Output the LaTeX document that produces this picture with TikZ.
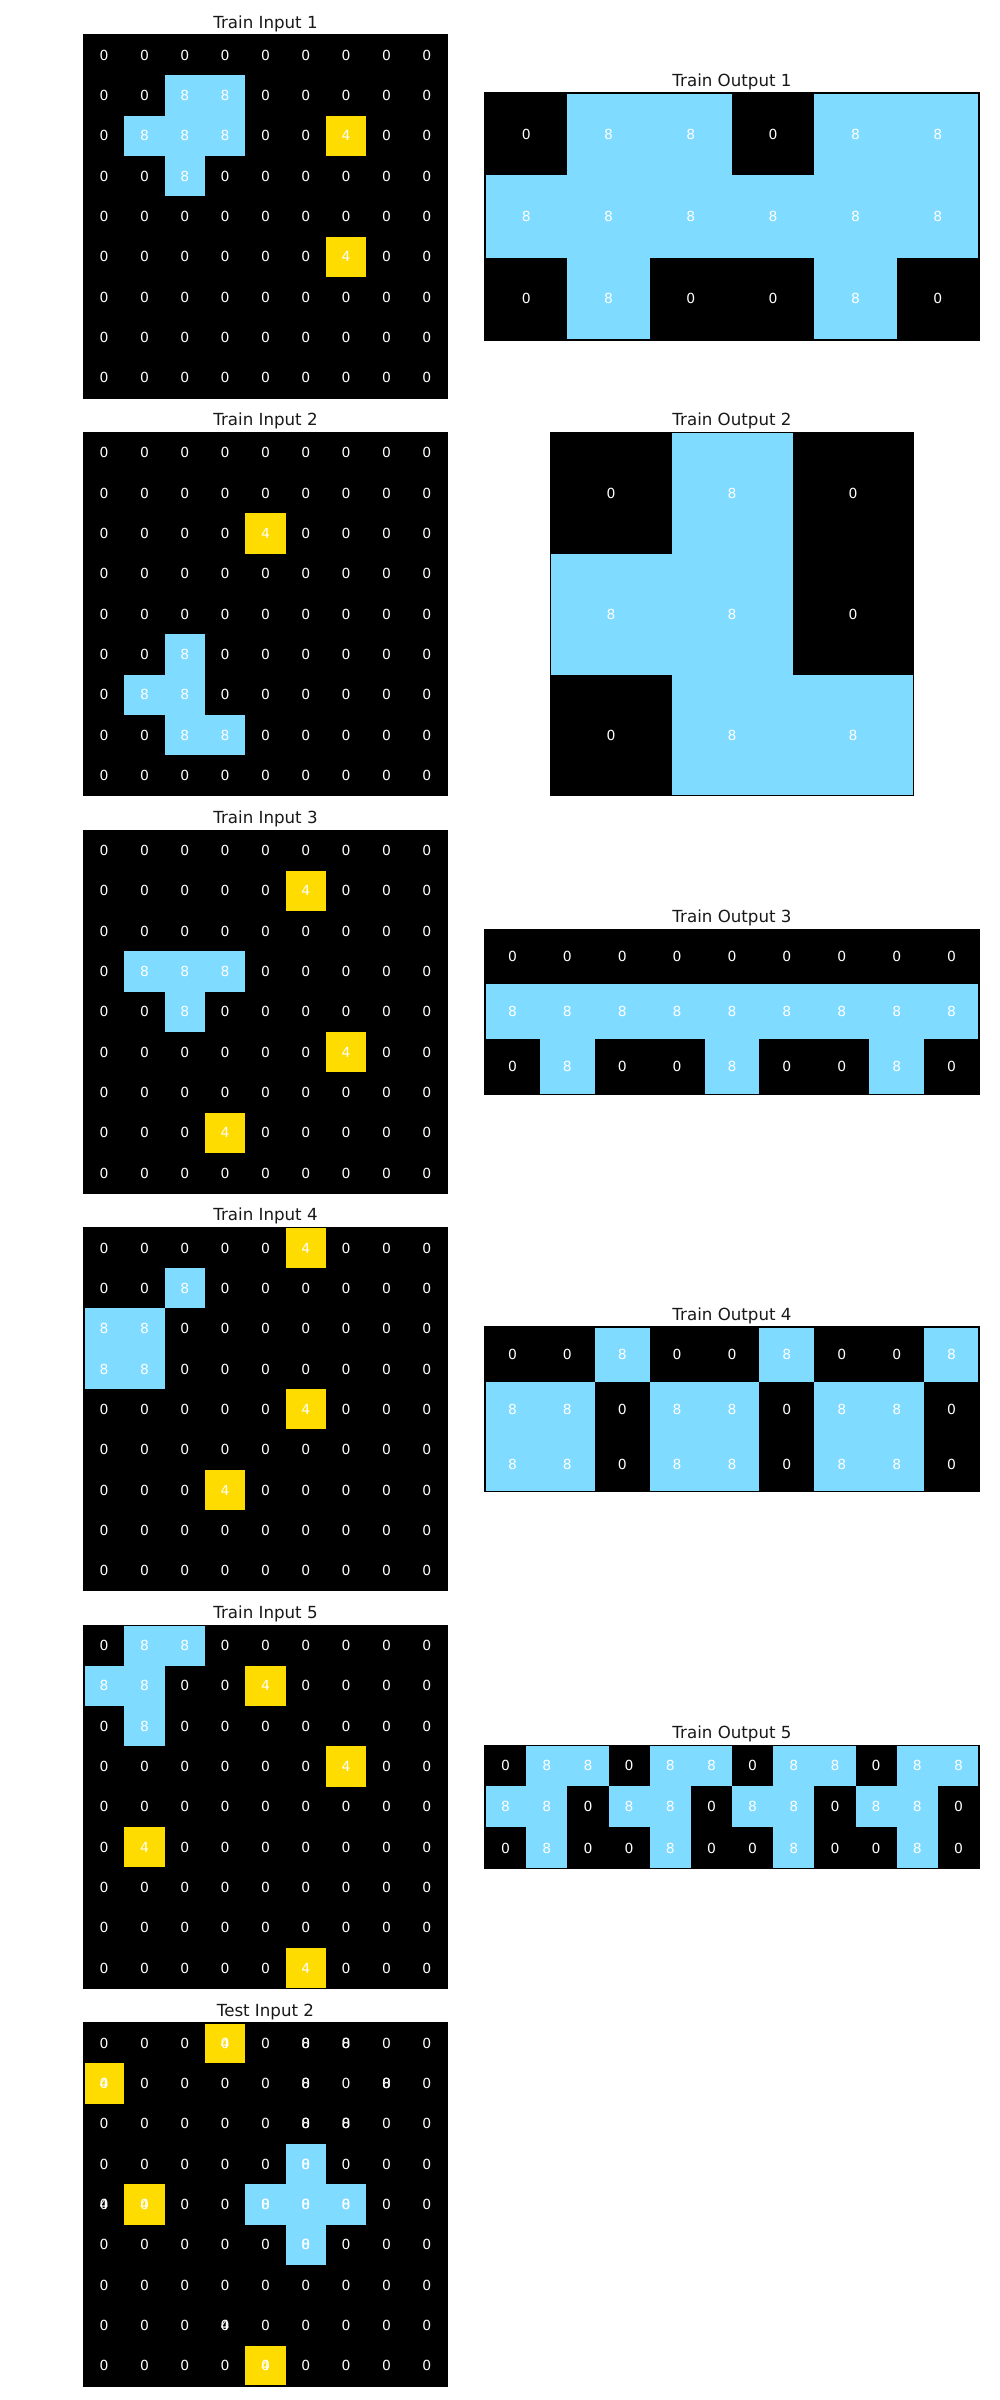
\documentclass[tikz,border=0pt]{standalone}
\usepackage{fontspec}
\setmainfont{DejaVu Sans}
\usepackage{tikz}
\usetikzlibrary{positioning}
\definecolor{arc0}{RGB}{0,0,0}
\definecolor{arc4}{RGB}{255,220,0}
\definecolor{arc8}{RGB}{127,219,255}
\tikzset{
  cellnum/.style={
    text=white,
    inner sep=0pt,
    font=\fontsize{10}{12}\selectfont
  },
  gridtitle/.style={
    anchor=base,
    inner sep=0pt,
    text=black!90,
    font=\fontsize{12}{14}\selectfont
  },
  gridframe/.style={draw=black,line width=0.8pt}
}
% #1 name, #2 left, #3 top, #4 cell, #5 cols, #6 rows, #7 title, #8 values
\newcommand{\arcgrid}[8]{%
  \foreach \cells [count=\r from 0] in {#8} {
    \foreach \v [count=\c from 0] in \cells {
      \fill[arc\v] ({#2+\c*#4},{#3+\r*#4}) rectangle ++(#4,#4);
      \node[cellnum] (#1-\r-\c) at ({#2+(\c+0.5)*#4},{#3+(\r+0.5)*#4}) {\v};
    }
  }
  \draw[gridframe] (#2,#3) rectangle ({#2+#5*#4},{#3+#6*#4});
  \node[gridtitle] (#1-title) at ({#2+#5*#4/2},{#3-7}) {#7};
}

\begin{document}
\begin{tikzpicture}[x=0.72pt,y=-0.72pt]
  \fill[white] (0,0) rectangle (1000,2400);
  \useasboundingbox (0,0) rectangle (1000,2400);

  \arcgrid{in1}{84}{35}{40.33}{9}{9}{Train Input 1}{
    {0,0,0,0,0,0,0,0,0},{0,0,8,8,0,0,0,0,0},{0,8,8,8,0,0,4,0,0},
    {0,0,8,0,0,0,0,0,0},{0,0,0,0,0,0,0,0,0},{0,0,0,0,0,0,4,0,0},
    {0,0,0,0,0,0,0,0,0},{0,0,0,0,0,0,0,0,0},{0,0,0,0,0,0,0,0,0}}
  \arcgrid{out1}{485}{93}{82.33}{6}{3}{Train Output 1}{
    {0,8,8,0,8,8},{8,8,8,8,8,8},{0,8,0,0,8,0}}

  \arcgrid{in2}{84}{432.6}{40.33}{9}{9}{Train Input 2}{
    {0,0,0,0,0,0,0,0,0},{0,0,0,0,0,0,0,0,0},{0,0,0,0,4,0,0,0,0},
    {0,0,0,0,0,0,0,0,0},{0,0,0,0,0,0,0,0,0},{0,0,8,0,0,0,0,0,0},
    {0,8,8,0,0,0,0,0,0},{0,0,8,8,0,0,0,0,0},{0,0,0,0,0,0,0,0,0}}
  \arcgrid{out2}{550.5}{432.6}{121}{3}{3}{Train Output 2}{
    {0,8,0},{8,8,0},{0,8,8}}

  \arcgrid{in3}{84}{830.2}{40.33}{9}{9}{Train Input 3}{
    {0,0,0,0,0,0,0,0,0},{0,0,0,0,0,4,0,0,0},{0,0,0,0,0,0,0,0,0},
    {0,8,8,8,0,0,0,0,0},{0,0,8,0,0,0,0,0,0},{0,0,0,0,0,0,4,0,0},
    {0,0,0,0,0,0,0,0,0},{0,0,0,4,0,0,0,0,0},{0,0,0,0,0,0,0,0,0}}
  \arcgrid{out3}{485}{929.4}{54.89}{9}{3}{Train Output 3}{
    {0,0,0,0,0,0,0,0,0},{8,8,8,8,8,8,8,8,8},{0,8,0,0,8,0,0,8,0}}

  \arcgrid{in4}{84}{1227.8}{40.33}{9}{9}{Train Input 4}{
    {0,0,0,0,0,4,0,0,0},{0,0,8,0,0,0,0,0,0},{8,8,0,0,0,0,0,0,0},
    {8,8,0,0,0,0,0,0,0},{0,0,0,0,0,4,0,0,0},{0,0,0,0,0,0,0,0,0},
    {0,0,0,4,0,0,0,0,0},{0,0,0,0,0,0,0,0,0},{0,0,0,0,0,0,0,0,0}}
  \arcgrid{out4}{485}{1327}{54.89}{9}{3}{Train Output 4}{
    {0,0,8,0,0,8,0,0,8},{8,8,0,8,8,0,8,8,0},{8,8,0,8,8,0,8,8,0}}

  \arcgrid{in5}{84}{1625.4}{40.33}{9}{9}{Train Input 5}{
    {0,8,8,0,0,0,0,0,0},{8,8,0,0,4,0,0,0,0},{0,8,0,0,0,0,0,0,0},
    {0,0,0,0,0,0,4,0,0},{0,0,0,0,0,0,0,0,0},{0,4,0,0,0,0,0,0,0},
    {0,0,0,0,0,0,0,0,0},{0,0,0,0,0,0,0,0,0},{0,0,0,0,0,4,0,0,0}}
  \arcgrid{out5}{485}{1745.1}{41.17}{12}{3}{Train Output 5}{
    {0,8,8,0,8,8,0,8,8,0,8,8},{8,8,0,8,8,0,8,8,0,8,8,0},
    {0,8,0,0,8,0,0,8,0,0,8,0}}

  \arcgrid{test}{84}{2023}{40.33}{9}{9}{Test Input 2}{
    {0,0,0,4,0,0,0,0,0},{4,0,0,0,0,0,0,0,0},{0,0,0,0,0,0,0,0,0},
    {0,0,0,0,0,8,0,0,0},{0,4,0,0,8,8,8,0,0},{0,0,0,0,0,8,0,0,0},
    {0,0,0,0,0,0,0,0,0},{0,0,0,0,0,0,0,0,0},{0,0,0,0,4,0,0,0,0}}
  % second layer of labels printed over the test grid
  \foreach \r/\c/\v in {0/3/0,1/0/0,4/1/0,8/4/0,3/5/0,4/4/0,4/5/0,4/6/0,5/5/0,
      4/0/4,7/3/4,0/5/8,0/6/8,1/5/8,1/7/8,2/5/8,2/6/8}
    \node[cellnum] (test-\r-\c-b) at (test-\r-\c) {\v};
\end{tikzpicture}
\end{document}
